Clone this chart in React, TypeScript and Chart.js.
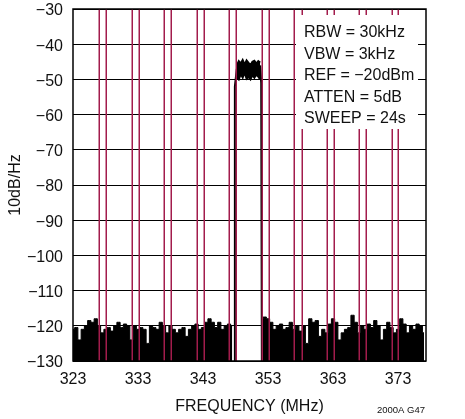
import React, { useEffect, useRef } from 'react';
import { Chart, registerables } from 'chart.js';

Chart.register(...registerables);

const X_MIN = 323;
const X_MAX = 377.3;
const Y_MIN = -130;
const Y_MAX = -30;
const X_TICKS = [323, 333, 343, 353, 363, 373];
const Y_STEP = 10;

const NOISE_STEP = 0.5;
const NOISE_LEFT_START = 323;
const NOISE_LEFT = [
  -121, -120.5, -124, -121, -120, -118.5, -119, -118, -120, -122,
  -121, -120.5, -121.5, -120, -119, -120.5, -119.5, -120, -124, -120,
  -121, -120.5, -121, -125, -120, -120.5, -121, -119, -120, -122,
  -120, -121, -122, -121, -120.5, -123, -121, -120, -119.5, -121,
  -120.5, -119, -118, -119, -120.5, -119, -121, -120, -119.5, -120,
];
const NOISE_RIGHT_START = 352;
const NOISE_RIGHT = [
  -118, -117.5, -118, -119, -121, -120, -119.5, -121, -120.5, -119,
  -121, -120, -121.5, -120, -125, -118, -119, -118.5, -123, -121,
  -122, -119.5, -118, -119, -124, -122, -121, -120.5, -117, -119,
  -122, -120, -121, -119.5, -120.5, -118.5, -120, -124, -121, -119,
  -120.5, -122, -121, -118, -119.5, -122, -120, -121, -119.5, -120, -122,
];

const SIGNAL_FREQ = [348.2, 348.5, 348.8, 349.1, 349.4, 349.7, 350.0, 350.3, 350.6, 350.9, 351.2, 351.5, 351.8];
const SIGNAL_TOP = [-46, -44.8, -45.5, -44.5, -45.8, -44.6, -45.3, -46.0, -45, -44.7, -45.5, -44.8, -45.2];
const SIGNAL_BOTTOM = [-49.5, -50, -48.5, -49.5, -48, -49.8, -49.3, -50, -48.8, -49.5, -48.6, -49.2, -50];

const EDGE_LEFT_FREQ = [347.8, 347.9, 348.2];
const EDGE_LEFT_LEVEL = [-130, -52, -47];
const EDGE_RIGHT_FREQ = [351.8, 351.95, 352.05];
const EDGE_RIGHT_LEVEL = [-46, -51, -130];

const MARKER_FREQ = [
  327, 328.15, 332, 333.15, 337, 338.15, 342, 343.15, 347, 348.15,
  352, 353.15, 357, 358.15, 362, 363.1, 367, 368.1, 372, 373.05,
];

const SETTINGS = ['RBW = 30kHz', 'VBW = 3kHz', 'REF = \u221220dBm', 'ATTEN = 5dB', 'SWEEP = 24s'];
const X_TITLE = 'FREQUENCY (MHz)';
const Y_TITLE = '10dB/Hz';
const FIG_ID = '2000A G47';

const FONT = '"Liberation Sans", Arial, sans-serif';
const RED = '#a21c4c';

const toPts = (start: number, step: number, vals: number[]) =>
  vals.map((v, i) => ({ x: start + i * step, y: v }));
const zipPts = (xs: number[], ys: number[]) => xs.map((x, i) => ({ x, y: ys[i] }));

const overlay = {
  id: 'overlay',
  afterDatasetsDraw(chart: any) {
    const { ctx, chartArea: a, scales } = chart;
    const xs = scales.x;
    ctx.save();
    ctx.strokeStyle = RED;
    ctx.lineWidth = 1.5;
    MARKER_FREQ.forEach((f) => {
      const px = Math.round(xs.getPixelForValue(f)) + 0.25;
      ctx.beginPath();
      ctx.moveTo(px, a.top);
      ctx.lineTo(px, a.bottom);
      ctx.stroke();
    });
    const bx = a.left + 223;
    const by = a.top + 6;
    const bw = a.right - 8 - bx;
    const bh = 114;
    ctx.fillStyle = '#ffffff';
    ctx.fillRect(bx, by, bw, bh);
    ctx.fillStyle = '#111';
    ctx.font = `16px ${FONT}`;
    ctx.textAlign = 'left';
    ctx.textBaseline = 'alphabetic';
    SETTINGS.forEach((t, i) => {
      ctx.fillText(t, bx + 8, a.top + 28 + i * 21.6);
    });
    ctx.strokeStyle = '#000';
    ctx.lineWidth = 1.5;
    ctx.strokeRect(a.left, a.top, a.right - a.left, a.bottom - a.top);
    ctx.restore();
  },
  afterDraw(chart: any) {
    const { ctx, chartArea: a } = chart;
    ctx.save();
    ctx.fillStyle = '#111';
    ctx.font = `9.5px ${FONT}`;
    ctx.textAlign = 'right';
    ctx.textBaseline = 'middle';
    ctx.fillText(FIG_ID, a.right - 1, 410);
    ctx.restore();
  },
};

export default function App() {
  const ref = useRef<HTMLCanvasElement>(null);
  useEffect(() => {
    if (!ref.current) return;
    const common = { pointRadius: 0, borderColor: '#000', tension: 0 };
    const chart = new Chart(ref.current, {
      type: 'line',
      data: {
        datasets: [
          {
            ...common,
            data: toPts(NOISE_LEFT_START, NOISE_STEP, NOISE_LEFT),
            stepped: 'middle',
            borderWidth: 1,
            fill: 'start',
            backgroundColor: '#000',
          },
          {
            ...common,
            data: toPts(NOISE_RIGHT_START, NOISE_STEP, NOISE_RIGHT),
            stepped: 'middle',
            borderWidth: 1,
            fill: 'start',
            backgroundColor: '#000',
          },
          {
            ...common,
            data: zipPts(SIGNAL_FREQ, SIGNAL_TOP),
            borderWidth: 2,
            fill: '+1',
            backgroundColor: '#000',
          },
          {
            ...common,
            data: zipPts(SIGNAL_FREQ, SIGNAL_BOTTOM),
            borderWidth: 2,
            fill: false,
          },
          {
            ...common,
            data: zipPts(EDGE_LEFT_FREQ, EDGE_LEFT_LEVEL),
            borderWidth: 2,
            fill: false,
          },
          {
            ...common,
            data: zipPts(EDGE_RIGHT_FREQ, EDGE_RIGHT_LEVEL),
            borderWidth: 2,
            fill: false,
          },
        ],
      },
      options: {
        animation: false,
        responsive: false,
        devicePixelRatio: 1,
        layout: { padding: { left: 0, top: 0, right: 39, bottom: 0 } },
        plugins: { legend: { display: false }, tooltip: { enabled: false } },
        scales: {
          x: {
            type: 'linear',
            min: X_MIN,
            max: X_MAX,
            afterBuildTicks: (s: any) => {
              s.ticks = X_TICKS.map((v) => ({ value: v }));
            },
            afterFit: (s: any) => {
              s.height = 58;
            },
            grid: { display: false, drawTicks: false },
            border: { display: false },
            ticks: {
              padding: 9,
              color: '#111',
              font: { family: FONT, size: 16 },
              maxRotation: 0,
              autoSkip: false,
              callback: (v: any) => String(v),
            },
            title: {
              display: true,
              text: X_TITLE,
              color: '#111',
              font: { family: FONT, size: 16 },
              padding: { top: 0, bottom: 2.4 },
            },
          },
          y: {
            type: 'linear',
            min: Y_MIN,
            max: Y_MAX,
            afterFit: (s: any) => {
              s.width = 73;
              s.paddingTop = 9;
            },
            grid: { color: '#000', lineWidth: 1, drawTicks: false },
            border: { display: false },
            ticks: {
              stepSize: Y_STEP,
              padding: 10,
              labelOffset: 2,
              color: '#111',
              font: { family: FONT, size: 16 },
              callback: (v: any) => (v < 0 ? '\u2212' + Math.abs(v) : String(v)),
            },
            title: {
              display: true,
              text: Y_TITLE,
              color: '#111',
              font: { family: FONT, size: 16 },
              padding: { top: 6, bottom: 0 },
            },
          },
        },
      },
      plugins: [overlay],
    } as any);
    return () => chart.destroy();
  }, []);
  return (
    <div style={{ position: 'fixed', left: 0, top: 0, width: 465, height: 419, background: '#fff' }}>
      <canvas ref={ref} width={465} height={419} />
    </div>
  );
}
